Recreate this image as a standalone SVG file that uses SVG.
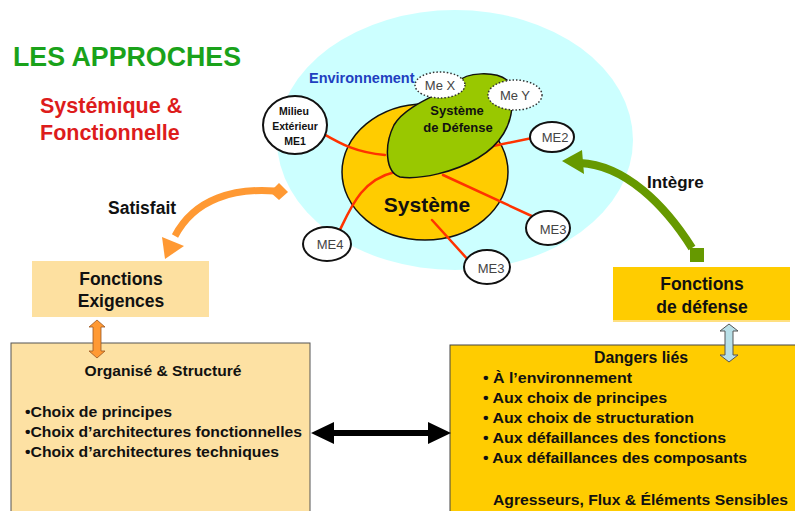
<svg xmlns="http://www.w3.org/2000/svg" width="795" height="511" viewBox="0 0 795 511">
<style>
  text { font-family: "Liberation Sans", Arial, sans-serif; font-weight: bold; fill: #111; }
  .me { fill: #fff; stroke: #111; stroke-width: 2; }
  .dot { fill: #fff; stroke: #333; stroke-width: 1.5; stroke-dasharray: 1.5 2; }
  .metx { font-weight: normal; fill: #444; font-size: 13px; }
  .red { fill: none; stroke: #ff3300; stroke-width: 2.5; stroke-linecap: round; }
</style>
<rect width="795" height="511" fill="#fff"/>

<g id="title">
  <text x="13" y="66" font-size="27" style="fill:#1aa21a" textLength="228" lengthAdjust="spacingAndGlyphs">LES APPROCHES</text>
  <text x="40" y="113" font-size="21.5" style="fill:#dd1c1c">Systémique &amp;</text>
  <text x="40" y="140" font-size="21.5" style="fill:#dd1c1c">Fonctionnelle</text>
</g>

<g id="environnement">
  <ellipse cx="455" cy="140" rx="178" ry="130" fill="#ccffff"/>
  <text x="309" y="83" font-size="14.5" style="fill:#1f3fbf">Environnement</text>
</g>

<g id="systeme">
  <ellipse cx="425" cy="172" rx="83" ry="68" fill="#ffcc00" stroke="#111" stroke-width="1.5"/>
  <text x="427" y="212" font-size="21" text-anchor="middle">Système</text>
</g>

<g id="fonctions-exigences">
  <rect x="32" y="261" width="177" height="56" fill="#fde0a0"/>
  <text x="121" y="285" font-size="17.5" text-anchor="middle">Fonctions</text>
  <text x="121" y="307" font-size="17.5" text-anchor="middle">Exigences</text>
</g>

<g id="fonctions-defense">
  <rect x="613" y="267" width="177" height="55" fill="#ffcc00"/>
  <rect x="613" y="320" width="177" height="2" fill="#ffe080"/>
  <text x="702" y="290" font-size="17.5" text-anchor="middle">Fonctions</text>
  <text x="702" y="313" font-size="17.5" text-anchor="middle">de défense</text>
</g>

<g id="organise">
  <rect x="11" y="343" width="299" height="175" fill="#fde1a3" stroke="#555" stroke-width="1"/>
  <text x="163" y="376" font-size="15" text-anchor="middle" textLength="157" lengthAdjust="spacingAndGlyphs">Organisé &amp; Structuré</text>
  <text x="25" y="417" font-size="15.5" textLength="147" lengthAdjust="spacingAndGlyphs">•Choix de principes</text>
  <text x="25" y="437" font-size="15.5" textLength="277" lengthAdjust="spacingAndGlyphs">•Choix d’architectures fonctionnelles</text>
  <text x="25" y="457" font-size="15.5" textLength="254" lengthAdjust="spacingAndGlyphs">•Choix d’architectures techniques</text>
</g>

<g id="dangers">
  <rect x="450" y="345" width="350" height="175" fill="#ffcc00" stroke="#444" stroke-width="1"/>
  <text x="641" y="363" font-size="16" text-anchor="middle" textLength="94" lengthAdjust="spacingAndGlyphs">Dangers liés</text>
  <text x="483" y="383" font-size="15.5" textLength="149" lengthAdjust="spacingAndGlyphs">• À l’environnement</text>
  <text x="483" y="403" font-size="15.5" textLength="184" lengthAdjust="spacingAndGlyphs">• Aux choix de principes</text>
  <text x="483" y="423" font-size="15.5" textLength="211" lengthAdjust="spacingAndGlyphs">• Aux choix de structuration</text>
  <text x="483" y="443" font-size="15.5" textLength="243" lengthAdjust="spacingAndGlyphs">• Aux défaillances des fonctions</text>
  <text x="483" y="463" font-size="15.5" textLength="264" lengthAdjust="spacingAndGlyphs">• Aux défaillances des composants</text>
  <text x="493" y="505" font-size="15.5" textLength="295" lengthAdjust="spacingAndGlyphs">Agresseurs, Flux &amp; Éléments Sensibles</text>
</g>

<g id="connectors">
  <path class="red" d="M313 128 C335 140 350 152 385 155"/>
  <path class="red" d="M337 236 C350 210 360 180 395 172"/>
  <line class="red" x1="493" y1="146" x2="537" y2="137"/>
  <line class="red" x1="443" y1="175" x2="536" y2="218"/>
  <line class="red" x1="432" y1="220" x2="470" y2="262"/>

  <!-- orange curved arrow -->
  <path d="M275 191 C235 188 195 198 175 236" fill="none" stroke="#ff9933" stroke-width="7"/>
  <polygon points="165,259 162,237 184,246" fill="#ff9933"/>
  <polygon points="279,183 288,192 279,200 270,192" fill="#ff9933"/>

  <!-- green curved arrow -->
  <path d="M580 163 C625 165 665 205 692 248" fill="none" stroke="#669900" stroke-width="8"/>
  <polygon points="562,161 582,150 584,174" fill="#669900"/>
  <rect x="690" y="248" width="14" height="14" fill="#669900"/>

  <!-- orange small double arrow -->
  <polygon points="97,320 105,327 101,327 101,351 105,351 97,358 89,351 93,351 93,327 89,327" fill="#ff9933" stroke="#995522" stroke-width="0.8"/>
  <!-- light blue double arrow -->
  <polygon points="729,324 738,331 733,331 733,355 738,355 729,362 720,355 725,355 725,331 720,331" fill="#b8e0e8" stroke="#555" stroke-width="1"/>
  <!-- black double arrow -->
  <polygon points="311,433 334,422 334,430 428,430 428,422 451,433 428,444 428,436 334,436 334,444" fill="#000"/>
</g>

<g id="systeme-defense">
  <path d="M458 82 C466 72 495 71 507 80 L512 100 C513 125 500 145 478 158 C455 172 420 180 400 177 C385 172 384 145 394 125 C404 108 430 98 447 89 Z" fill="#99c800" stroke="#111" stroke-width="1.5"/>
  <text x="457" y="115" font-size="13" text-anchor="middle">Système</text>
  <text x="458" y="132" font-size="13" text-anchor="middle">de Défense</text>
</g>

<g id="mex">
  <ellipse class="dot" cx="440" cy="85" rx="25" ry="13"/>
  <text class="metx" x="440" y="90" text-anchor="middle">Me X</text>
</g>
<g id="mey">
  <ellipse class="dot" cx="515" cy="95" rx="27" ry="15"/>
  <text class="metx" x="515" y="100" text-anchor="middle">Me Y</text>
</g>

<g id="me1">
  <ellipse class="me" cx="295" cy="125" rx="32" ry="29"/>
  <text x="294" y="115" font-size="10.5" text-anchor="middle">Milieu</text>
  <text x="295" y="130" font-size="10.5" text-anchor="middle">Extérieur</text>
  <text x="295" y="145" font-size="10.5" text-anchor="middle">ME1</text>
</g>
<g id="me2">
  <ellipse class="me" cx="552" cy="137" rx="22" ry="15"/>
  <text class="metx" x="555" y="142" text-anchor="middle">ME2</text>
</g>
<g id="me3a">
  <ellipse class="me" cx="548" cy="228" rx="22" ry="17"/>
  <text class="metx" x="553" y="234" text-anchor="middle">ME3</text>
</g>
<g id="me3b">
  <ellipse class="me" cx="487" cy="267" rx="23" ry="17"/>
  <text class="metx" x="491" y="273" text-anchor="middle">ME3</text>
</g>
<g id="me4">
  <ellipse class="me" cx="327" cy="244" rx="24" ry="17"/>
  <text class="metx" x="330" y="249" text-anchor="middle">ME4</text>
</g>

<g id="labels">
  <text x="108" y="214" font-size="17.5">Satisfait</text>
  <text x="647" y="188" font-size="17">Intègre</text>
</g>
</svg>
